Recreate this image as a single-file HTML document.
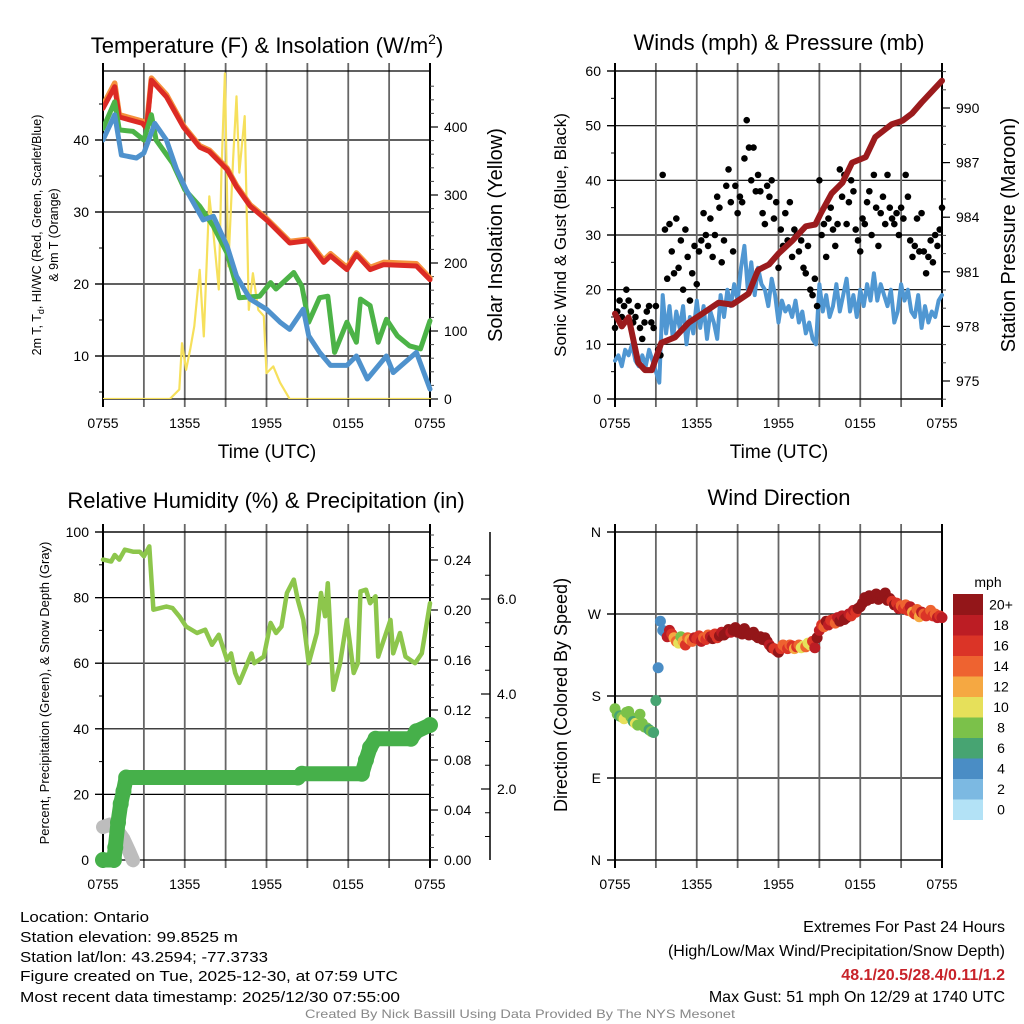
<!DOCTYPE html>
<html><head><meta charset="utf-8"><style>
html,body{margin:0;padding:0;background:#fff}
svg{display:block;font-family:"Liberation Sans",Arial,sans-serif}
</style></head><body>
<svg id="chart" width="1024" height="1024" viewBox="0 0 1024 1024" xmlns="http://www.w3.org/2000/svg">
<rect width="1024" height="1024" fill="#fff"/>
<g id="layer"></g>
<text x="267" y="53" font-size="22" text-anchor="middle">Temperature (F) &amp; Insolation (W/m<tspan font-size="14" dy="-9">2</tspan><tspan dy="9">)</tspan></text>
<text x="779" y="50" font-size="22" text-anchor="middle">Winds (mph) &amp; Pressure (mb)</text>
<text x="266" y="508" font-size="22" text-anchor="middle">Relative Humidity (%) &amp; Precipitation (in)</text>
<text x="779" y="505" font-size="22" text-anchor="middle">Wind Direction</text>
<text x="267" y="458" font-size="19" text-anchor="middle">Time (UTC)</text>
<text x="779" y="458" font-size="19" text-anchor="middle">Time (UTC)</text>
<text transform="translate(41,235) rotate(-90)" font-size="12.5" text-anchor="middle">2m T, T<tspan font-size="9" dy="3">d</tspan><tspan dy="-3">, HI/WC (Red, Green, Scarlet/Blue)</tspan></text>
<text transform="translate(58,235) rotate(-90)" font-size="12.5" text-anchor="middle">&amp; 9m T (Orange)</text>
<text transform="translate(502,235) rotate(-90)" font-size="20" text-anchor="middle">Solar Insolation (Yellow)</text>
<text transform="translate(566,235) rotate(-90)" font-size="17" text-anchor="middle">Sonic Wind &amp; Gust (Blue, Black)</text>
<text transform="translate(1015,235) rotate(-90)" font-size="20" text-anchor="middle">Station Pressure (Maroon)</text>
<text transform="translate(49,693) rotate(-90)" font-size="13" text-anchor="middle">Percent, Precipitation (Green), &amp; Snow Depth (Gray)</text>
<text transform="translate(567,695) rotate(-90)" font-size="18" text-anchor="middle">Direction (Colored By Speed)</text>
<text x="988" y="587" font-size="14" text-anchor="middle">mph</text>
<g font-size="15">
<text x="20" y="922" textLength="129" lengthAdjust="spacingAndGlyphs">Location: Ontario</text>
<text x="20" y="942" textLength="218" lengthAdjust="spacingAndGlyphs">Station elevation: 99.8525 m</text>
<text x="20" y="962" textLength="248" lengthAdjust="spacingAndGlyphs">Station lat/lon: 43.2594; -77.3733</text>
<text x="20" y="981" textLength="378" lengthAdjust="spacingAndGlyphs">Figure created on Tue, 2025-12-30, at 07:59 UTC</text>
<text x="20" y="1002" textLength="380" lengthAdjust="spacingAndGlyphs">Most recent data timestamp: 2025/12/30 07:55:00</text>
</g>
<g font-size="16" text-anchor="end">
<text x="1005" y="932">Extremes For Past 24 Hours</text>
<text x="1005" y="956">(High/Low/Max Wind/Precipitation/Snow Depth)</text>
<text x="1005" y="980" fill="#c8232a" font-weight="bold">48.1/20.5/28.4/0.11/1.2</text>
<text x="1005" y="1002">Max Gust: 51 mph On 12/29 at 1740 UTC</text>
</g>
<text x="520" y="1018" font-size="12" fill="#888" text-anchor="middle" textLength="430" lengthAdjust="spacingAndGlyphs">Created By Nick Bassill Using Data Provided By The NYS Mesonet</text>
</svg>
<script>
// ---- data (hours since 0755 UTC) ----
const xTickLabels = ["0755","1355","1955","0155","0755"];
const tempT = [0,0.86,1.2,2.9,3.2,3.55,4.65,5.9,7.1,7.8,9.1,9.8,10.8,12,13.7,15,16.2,16.7,17.9,18.6,19.6,20.6,23,24];
const tempRed = [44.4,47.4,43.2,42.3,41.6,48.3,46,41.8,39,38.4,35.9,33.5,30.8,28.9,25.7,26,23,23.9,22,24.1,22,22.7,22.5,20.6];
const tempOrange = [44.8,47.9,43.5,42.6,41.9,48.6,46.3,42.0,39.2,38.6,36.1,33.7,31.0,29.1,25.9,26.2,23.3,24.2,22.3,24.3,22.3,23.0,22.8,20.8];
const dewT = [0,0.86,1.2,2.2,3,3.55,3.9,5.1,6,7.1,8.1,9.1,9.8,10,11.5,12.3,12.7,14,14.6,15.1,15.9,16.5,17,17.9,18.6,18.9,19.6,20.2,20.8,21.6,22.5,23.3,24];
const dewGreen = [41.6,45.3,41.4,41.2,40,43.5,40,36.8,33.1,30.8,28,24.3,19.7,18.1,18.3,20.2,19.3,21.6,19.7,14.7,18.1,18.3,10.5,14.7,11.9,17.9,17,11.9,15.1,12.8,11.4,11,14.9];
const wcT = [0,0.86,1.35,2.45,3,3.8,4.65,5.4,6.1,7.35,8.1,9.1,9.8,10.8,12,13,13.7,14.7,15.1,15.9,16.7,17.9,18.6,19.4,20.8,21.3,23,24];
const wcBlue = [40,43.5,37.9,37.5,38.2,42.3,40,35.9,33.1,28.9,29.4,25.3,21.1,17.9,16.5,14.7,13.7,16.5,12.8,10.5,8.7,8.7,10,6.8,10,7.7,10.5,5.4];
const solarT = [0,4.9,5.6,5.8,6.1,6.4,6.7,7.1,7.4,7.8,8.1,8.5,8.7,8.95,9.2,9.55,9.8,10,10.4,10.7,11,11.4,11.8,12,12.5,13,13.7,24];
const solarW = [0,0,14,82,43,73,107,190,92,298,244,161,337,479,195,352,445,333,416,131,185,131,122,38,48,24,0,0];

// sonic wind every 15 min
const windSpeed = [7,8,6,9, 8,10,7,6, 8,6,9,7, 5,3,19,12, 17,11,16,13, 17,10,15,12, 18,13,17,11, 16,14,11,19, 15,20,17,21, 18,24,28,20, 25,19,24,21, 20,17,22,19, 14,18,16,17, 15,18,14,16, 12,14,11,10, 21,16,19,15, 17,21,16,19, 22,16,19,15, 20,17,21,18, 23,18,21,19, 17,20,14,16, 21,18,20,16, 15,19,13,17, 14,16,15,18, 19];
const presT = [0,0.5,1,1.7,2.2,2.7,3.4,4.4,5.4,6.4,7.6,8.6,9.8,10.5,11.3,12,13,14,14.7,15.1,15.9,16.7,17.4,18.4,19.1,20.3,21.1,21.8,22.5,24];
const presMb = [978.7,978,978.5,976,975.6,975.6,977.1,977.4,978.2,978.7,979.3,979.2,979.8,981.1,981.4,982,982.7,983.5,983.6,984.2,985.3,985.9,987,987.3,988.4,989.1,989.3,989.7,990.3,991.5];
const gusts = [13,16,18,15,17,20, 18,16,14,15,17,13, 11,14,16,17,14,13, 17,9,8,41,31,22, 32,27,23,33,24,29, 20,31,26,18,23,28, 21,27,29,34,30,28, 33,26,30,37,35,25, 29,39,42,36,27,39, 34,37,36,44,51,46, 40,46,38,41,38,34, 32,39,37,40,33,36, 24,31,28,34,29,36, 26,31,30,27,29,24, 23,28,20,19,22,17, 40,30,32,26,33,35, 31,28,32,42,37,41, 32,36,40,38,31,29, 27,33,32,36,38,30, 41,35,28,34,37,32, 41,35,33,32,34,30, 35,33,41,37,29,26, 28,33,27,34,27,23, 26,29,25,30,28,31, 35];

const rhT = [0,0.6,0.86,1.2,1.6,2.2,2.7,3,3.4,3.7,4.2,4.65,5.1,5.6,6.1,6.9,7.5,8,8.5,9.1,9.4,9.7,10,10.5,10.9,11.1,11.8,12.3,12.7,13.1,13.5,14,14.3,14.7,15.1,15.7,16,16.3,16.5,16.9,17.4,17.9,18.4,18.7,18.9,19.3,19.6,20,20.2,20.7,21.1,21.3,21.8,22.2,22.9,23.4,24];
const rhPct = [91.6,91,93,91.6,94.6,94,94,92.6,95.6,76.3,76.8,77.3,76.8,74.3,71.2,69.2,70.2,65.6,68.7,61,63,57,54,59,63,60,62,72.3,69.2,71.2,81.4,85.5,79.3,73.2,60,69.2,81.4,74.3,84.4,51.9,60,73.2,57,60,81.9,82.4,78.3,80.4,62,68.2,73.2,63,69.2,62,60,63,78.3];
const precipT = [0,0.8,0.9,1.1,1.3,1.5,1.7,14.3,14.6,19.0,19.3,19.6,20.0,22.6,23.0,24];
const precipIn = [0,0,0.01,0.03,0.045,0.055,0.066,0.066,0.069,0.069,0.08,0.09,0.097,0.097,0.103,0.108];
const snowT = [0,0.5,1.0,1.5,1.9,2.2];
const snowIn = [1.2,1.25,1.15,0.95,0.7,0.5];

const dirDeg = [166,160,158,157,155,162, 163,157,152,150,148,160, 150,146,145,143,141,140, 175,211,262,252,250,245, 252,248,244,240,238,245, 240,236,244,242,240,244, 243,246,240,244,242,247, 245,243,248,244,246,250, 247,249,253,250,252,255, 250,252,248,254,250,247, 248,250,246,244,245,242, 244,240,236,233,232,230, 228,232,236,234,232,236, 235,232,234,236,233,235, 234,238,236,240,233,244, 252,258,256,262,258,263, 264,260,266,262,268,264, 266,270,268,274,272,276, 278,282,288,285,290,287, 289,292,286,290,288,293, 285,287,284,280,282,276, 279,276,280,274,278,272, 270,275,267,272,270,268, 271,274,268,270,266,268, 266];
const dirSpeed = [8,8,7,8,10,8, 9,8,7,10,8,8, 8,9,8,7,8,6, 6,5,4,4,5,18, 18,17,12,14,10,8, 12,16,14,12,15,18, 16,17,18,15,16,14, 18,20,16,17,20,18, 20,22,20,18,21,20, 22,20,21,20,22,20, 21,22,20,22,20,21, 20,22,18,21,16,17, 20,16,15,14,17,14, 16,12,17,15,10,11, 14,10,10,16,18,20, 18,16,14,20,18,16, 17,15,18,20,18,21, 20,18,16,18,17,20, 20,21,22,20,22,21, 21,20,22,21,20,22, 20,21,17,20,16,18, 15,17,14,16,18,13, 16,15,12,18,14,16, 17,14,16,15,18,16, 18];
const speedColors = ["#b3e2f6","#7cb9e2","#4a8dc5","#47a472","#7bc14a","#e6e05a","#f5a842","#ee6330","#db3427","#bc1d24","#931619"];
const speedLabels = ["0","2","4","6","8","10","12","14","16","18","20+"];

// ---- helpers ----
const NS = "http://www.w3.org/2000/svg";
const layer = document.getElementById('layer');
function mk(tag, attrs, parent){ const e=document.createElementNS(NS,tag); for(const k in attrs) e.setAttribute(k,attrs[k]); (parent||layer).appendChild(e); return e; }
function xs(x0,x1){ return t => x0 + t*(x1-x0)/24; }
function lin(v0,p0,v1,p1){ return v => p0 + (v-v0)*(p1-p0)/(v1-v0); }
function pathFrom(T,V,fx,fy){ return T.map((t,i)=>(i?'L':'M')+fx(t).toFixed(1)+','+fy(V[i]).toFixed(1)).join(''); }
function pathStep(V,step,fx,fy){ return V.map((v,i)=>(i?'L':'M')+fx(i*step).toFixed(1)+','+fy(v).toFixed(1)).join(''); }

function frame(name,x0,x1,y0,y1,hGrid,fy){
  const g = mk('g',{});
  
  
  const fx = xs(x0,x1);
  hGrid.forEach(v=>{ const y=fy(v); mk('line',{x1:x0-8,x2:x1,y1:y,y2:y,stroke:'#000','stroke-width':1.2},g); });
  for(let t=0;t<=24;t+=3){ const x=fx(t); const edge=(t===0||t===24);
    mk('line',{x1:x,x2:x,y1:y0-8,y2:y1+8,stroke:edge?'#000':'#666','stroke-width':edge?2:1.8},g); }
  mk('line',{x1:x0,x2:x1,y1:y0,y2:y0,stroke:'#000','stroke-width':1.2},g);
  mk('line',{x1:x0,x2:x1,y1:y1,y2:y1,stroke:'#000','stroke-width':1.2},g);
  xTickLabels.forEach((lab,i)=>{
    const tx = mk('text',{x:fx(i*6),y:y1+29,'font-size':14,'text-anchor':'middle'},g);
    
    
    tx.textContent = lab; });
  return fx;
}
function leftAxis(name,x0,fy,majors,labels,minors){
  const g = mk('g',{});
  
  
  minors.forEach(v=>mk('line',{x1:x0-4,x2:x0,y1:fy(v),y2:fy(v),stroke:'#000','stroke-width':1},g));
  majors.forEach((v,i)=>{ mk('line',{x1:x0-8,x2:x0,y1:fy(v),y2:fy(v),stroke:'#000','stroke-width':1.2},g);
    const tx = mk('text',{x:x0-14,y:fy(v)+5,'font-size':14,'text-anchor':'end'},g);
    
    
    tx.textContent = labels[i]; });
}
function rightAxis(name,x1,fy,majors,labels,minors,y0,y1,lx){
  const g = mk('g',{});
  
  
  mk('line',{x1:x1,x2:x1,y1:y0,y2:y1,stroke:'#000','stroke-width':1.5},g);
  minors.forEach(v=>mk('line',{x1:x1,x2:x1+4,y1:fy(v),y2:fy(v),stroke:'#444','stroke-width':1},g));
  majors.forEach((v,i)=>{ mk('line',{x1:x1,x2:x1+8,y1:fy(v),y2:fy(v),stroke:'#000','stroke-width':1.2},g);
    const tx = mk('text',{x:lx||x1+14,y:fy(v)+5,'font-size':14},g);
    
    
    tx.textContent = labels[i]; });
}
function range(a,b,s){ const r=[]; for(let v=a; v<=b+1e-9; v+=s) r.push(+v.toFixed(4)); return r; }
function line(name,d,color,w){ const p=mk('path',{d:d,fill:'none',stroke:color,'stroke-width':w,'stroke-linejoin':'round','stroke-linecap':'round'});
  
  
  return p; }

// ---- Panel 1: temperature ----
(function(){
  const x0=103,x1=430,y0=71,y1=399;
  const fy = lin(40,140,10,356);
  const fs = lin(0,399,400,127);
  const fx = frame('temp',x0,x1,y0,y1,[10,20,30,40],fy);
  leftAxis('temp-left-axis',x0,fy,[10,20,30,40],['10','20','30','40'],[5,15,25,35,45]);
  rightAxis('solar-axis',x1,fs,[0,100,200,300,400],['0','100','200','300','400'],range(20,460,20),y0,y1);
  const clip = mk('clipPath',{id:'c1'}); mk('rect',{x:x0,y:y0-4,width:x1-x0+3,height:y1-y0+4},clip);
  const g = mk('g',{'clip-path':'url(#c1)'});
  
  
  const add=(n,d,c,w)=>{ const p=line(n,d,c,w); g.appendChild(p); };
  add('solar-line',pathFrom(solarT,solarW,fx,fs),'#f6e05c',2.2);
  add('temp-9m-orange-line',pathFrom(tempT,tempOrange,fx,fy),'#f5913c',5.5);
  add('temp-2m-red-line',pathFrom(tempT,tempRed,fx,fy),'#dc2a24',5);
  add('dewpoint-green-line',pathFrom(dewT,dewGreen,fx,fy),'#4cb347',5);
  add('windchill-blue-line',pathFrom(wcT,wcBlue,fx,fy),'#4f92cd',5);
})();

// ---- Panel 2: winds ----
(function(){
  const x0=615,x1=942,y0=71,y1=399;
  const fy = lin(0,399,60,71);
  const fp = lin(975,381,990,108);
  const fx = frame('wind',x0,x1,y0,y1,[0,10,20,30,40,50,60],fy);
  leftAxis('wind-left-axis',x0,fy,[0,10,20,30,40,50,60],['0','10','20','30','40','50','60'],[5,15,25,35,45,55]);
  rightAxis('pressure-axis',x1,fp,[975,978,981,984,987,990],['975','978','981','984','987','990'],range(974,992,1),y0,y1);
  const g = mk('g',{});
  
  
  const wl=line('sonic-wind-line',pathStep(windSpeed,0.25,fx,fy),'#5097d2',4); g.appendChild(wl);
  gusts.forEach((v,i)=>{ const c=mk('circle',{cx:fx(i/6),cy:fy(v),r:3.3,fill:'#000'},g);
    
     });
  const pl=line('pressure-line',pathFrom(presT,presMb,fx,fp),'#9b1b1d',6); g.appendChild(pl);
})();

// ---- Panel 3: humidity ----
(function(){
  const x0=103,x1=430,y0=532,y1=860;
  const fy = lin(0,860,100,532);
  const fpr = lin(0,860,0.24,560);
  const fsn = lin(2,789,6,599);
  const fx = frame('rh',x0,x1,y0,y1,[20,40,60,80,100],fy);
  leftAxis('rh-left-axis',x0,fy,[0,20,40,60,80,100],['0','20','40','60','80','100'],[10,30,50,70,90]);
  rightAxis('precip-axis',x1,fpr,range(0,0.24,0.04),['0.00','0.04','0.08','0.12','0.16','0.20','0.24'],range(0,0.26,0.01),y0,y1);
  const sg = mk('g',{});
  
  
  mk('line',{x1:490,x2:490,y1:y0,y2:y1,stroke:'#000','stroke-width':1.5},sg);
  range(0.5,6.5,0.5).forEach(v=>{ const y=fsn(v); if(y>=y0&&y<=y1) mk('line',{x1:485,x2:490,y1:y,y2:y,stroke:'#000','stroke-width':1},sg); });
  [2,4,6].forEach(v=>{ mk('line',{x1:481,x2:490,y1:fsn(v),y2:fsn(v),stroke:'#000','stroke-width':1.2},sg);
    const tx=mk('text',{x:497,y:fsn(v)+5,'font-size':14},sg);
    
    
    tx.textContent=v.toFixed(1); });
  const g = mk('g',{});
  
  
  const rl=line('rh-line',pathFrom(rhT,rhPct,fx,fy),'#8dc64c',4.5); g.appendChild(rl);
  const sl=line('snow-depth-line',pathFrom(snowT,snowIn,fx,fsn),'#bdbdbd',14); g.appendChild(sl);
  const pl=line('precip-line',pathFrom(precipT,precipIn,fx,fpr),'#46b04a',15); g.appendChild(pl);
  precipT.forEach((t,i)=>{ const c=mk('circle',{cx:fx(t),cy:fpr(precipIn[i]),r:8,fill:'#46b04a'},g);
    
     });
})();

// ---- Panel 4: wind direction ----
(function(){
  const x0=615,x1=942,y0=532,y1=860;
  const fy = lin(0,860,360,532);
  const fx = frame('dir',x0,x1,y0,y1,[0,90,180,270,360],fy);
  leftAxis('dir-left-axis',x0,fy,[0,90,180,270,360],['N','E','S','W','N'],[]);
  mk('line',{x1:x1,x2:x1,y1:y0,y2:y1,stroke:'#000','stroke-width':1.5});
  const g = mk('g',{});
  
  
  dirDeg.forEach((d,i)=>{ const ci=Math.min(10,Math.floor(dirSpeed[i]/2));
    const c=mk('circle',{cx:fx(i/6),cy:fy(d),r:5.5,fill:speedColors[ci]},g);
    
     });
  const cb = mk('g',{});
  
  
  const top=594, h=20.5;
  speedColors.forEach((c,i)=>{ const y=top+(10-i)*h;
    const r=mk('rect',{x:953,y:y,width:30,height:h+0.5,fill:c},cb);
    
    
    const tx=mk('text',{x:1001,y:y+h/2+5,'font-size':14,'text-anchor':'middle'},cb);
    
    
    tx.textContent=speedLabels[i]; });
})();
</script>
</body></html>
